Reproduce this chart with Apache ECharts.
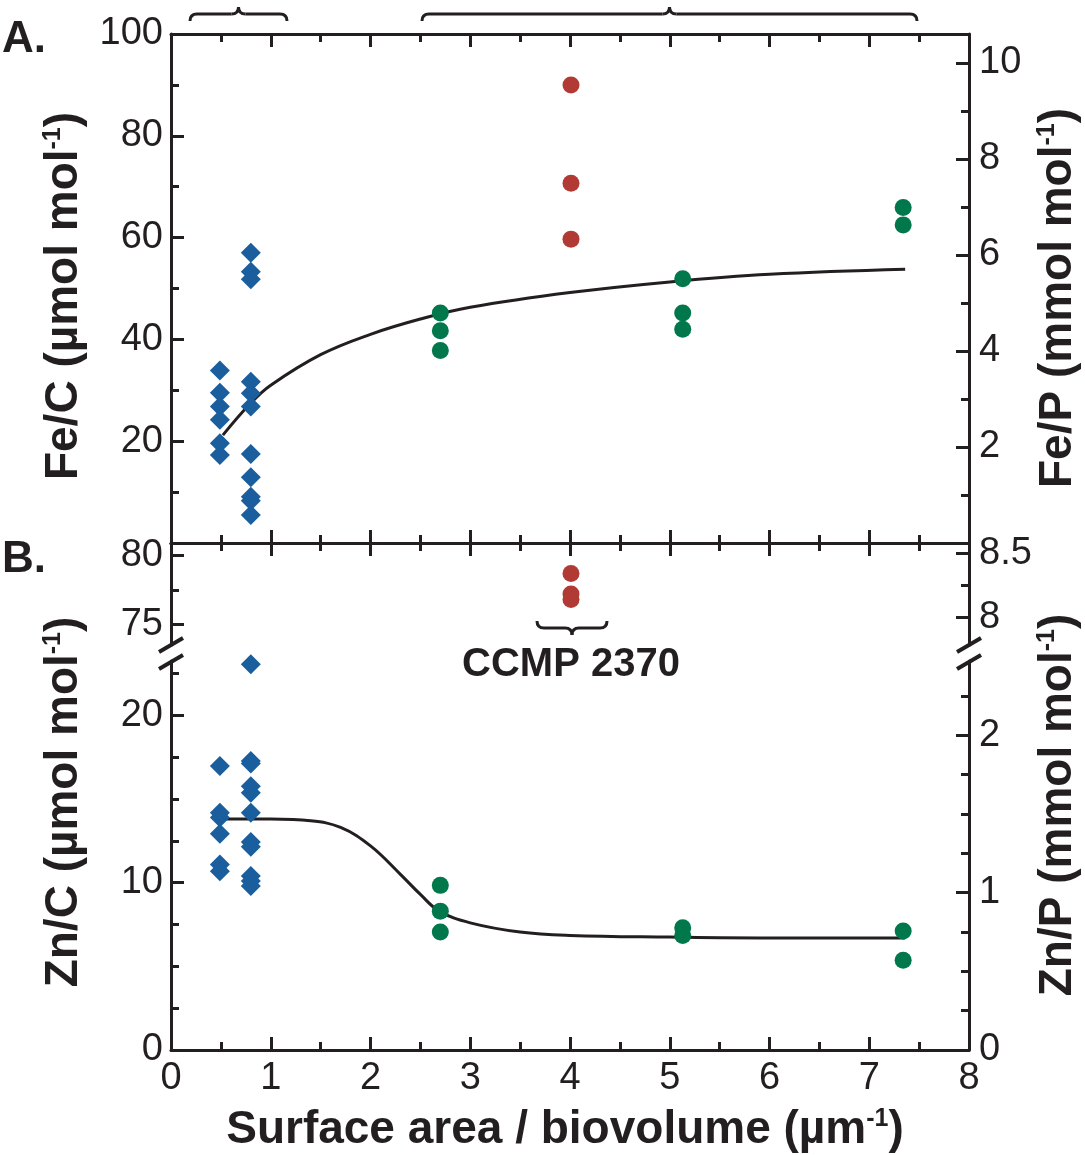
<!DOCTYPE html>
<html>
<head>
<meta charset="utf-8">
<script src="https://cdn.jsdelivr.net/npm/echarts@6/dist/echarts.min.js"></script>
<style>
  html, body { margin: 0; padding: 0; background: #fff; }
  #chart { width: 1085px; height: 1155px; }
</style>
</head>
<body>
<div id="chart"></div>
<script>
// ---- data ----
// panel A: Fe/C (µmol mol-1) vs surface area / biovolume
var blueFeC = [
    [0.49, 33.9], [0.49, 29.5], [0.49, 26.8], [0.49, 24.2], [0.49, 19.6], [0.49, 17.3],
    [0.80, 57.0], [0.80, 53.3], [0.80, 51.8], [0.80, 31.7], [0.80, 29.4], [0.80, 26.8],
    [0.80, 17.5], [0.80, 12.9], [0.80, 9.1], [0.80, 8.3], [0.80, 5.5]
];
var greenFeC = [
    [2.70, 45.2], [2.70, 41.7], [2.70, 37.8],
    [5.13, 51.9], [5.13, 45.2], [5.13, 42.0],
    [7.34, 65.9], [7.34, 62.5]
];
var redFeC = [[4.01, 90.0], [4.01, 70.7], [4.01, 59.7]];
var fitFeC = [
    [0.52, 21.2], [0.8, 27.5], [1.0, 31.0], [1.5, 37.0], [2.0, 41.0], [2.5, 44.0],
    [3.0, 46.3], [4.0, 49.2], [5.0, 51.3], [6.0, 52.8], [7.36, 53.8]
];

// panel B: Zn/C (µmol mol-1)
var blueZnC = [
    [0.49, 16.97], [0.49, 14.18], [0.49, 13.9], [0.49, 12.93], [0.49, 11.09], [0.49, 10.69],
    [0.80, 23.05], [0.80, 17.27], [0.80, 17.13], [0.80, 15.77], [0.80, 15.38], [0.80, 14.18],
    [0.80, 12.43], [0.80, 12.15], [0.80, 10.4], [0.80, 10.1], [0.80, 9.8]
];
var greenZnC = [
    [2.70, 9.84], [2.70, 8.30], [2.70, 7.05],
    [5.13, 7.31], [5.13, 6.85],
    [7.34, 7.11], [7.34, 5.37]
];
var redZnC = [[4.01, 78.7], [4.01, 77.2], [4.01, 76.8]];   // CCMP 2370, above the axis break
var fitZnC = [
    [0.48, 13.8], [1.0, 13.8], [1.4, 13.7], [1.7, 13.3], [2.0, 12.2], [2.3, 10.5],
    [2.5, 9.3], [2.69, 8.3], [3.0, 7.6], [3.5, 7.05], [4.0, 6.85], [5.0, 6.75],
    [6.0, 6.7], [7.36, 6.7]
];

// tick values
var feCMajor = [20, 40, 60, 80, 100], feCMinor = [10, 30, 50, 70, 90];
var fePMajor = [2, 4, 6, 8, 10], fePMinor = [1, 3, 5, 7, 9];
var znCHiMajor = [75, 80], znCHiMinor = [77.5];
var znPHiMajor = [8, 8.5], znPHiMinor = [8.25];
var znCLoMajor = [0, 10, 20], znCLoMinor = [2.5, 5, 7.5, 12.5, 15, 17.5, 22.5];
var znPLoMajor = [0, 1, 2], znPLoMinor = [0.25, 0.5, 0.75, 1.25, 1.5, 1.75, 2.25];

// ---- styling ----
var INK = '#231f20';
var BLUE = '#1b5e9e', GREEN = '#00784b', RED = '#b23a34';
var FONT = '"Liberation Sans", Arial, Helvetica, sans-serif';
var LBL = { color: INK, fontSize: 38, fontFamily: FONT };

function yMajor(grid, pos, min, max, ticks) {
    return {
        type: 'value', gridIndex: grid, position: pos, min: min, max: max,
        axisLine: { show: true, lineStyle: { color: INK, width: 3 } },
        axisTick: { show: true, inside: true, length: 13,
            customValues: ticks.filter(function (v) { return v > min && v < max; }),
            lineStyle: { color: INK, width: 3 } },
        axisLabel: Object.assign({ customValues: ticks, margin: pos === 'left' ? 8 : 10 }, LBL),
        splitLine: { show: false }
    };
}
function yMinor(grid, pos, min, max, ticks) {
    return {
        type: 'value', gridIndex: grid, position: pos, min: min, max: max,
        axisLine: { show: false },
        axisTick: { show: true, inside: true, length: 8, customValues: ticks, lineStyle: { color: INK, width: 3 } },
        axisLabel: { show: false },
        splitLine: { show: false }
    };
}
function xAx(grid, pos, labels) {
    return {
        type: 'value', gridIndex: grid, position: pos, min: 0, max: 8, interval: 1,
        axisLine: { show: true, onZero: false, lineStyle: { color: INK, width: 3 } },
        axisTick: { show: true, inside: true, length: 13, lineStyle: { color: INK, width: 3 } },
        minorTick: { show: true, splitNumber: 2, length: 8, lineStyle: { color: INK, width: 3 } },
        axisLabel: labels ? Object.assign({ margin: 10 }, LBL) : { show: false },
        splitLine: { show: false }
    };
}
function rich(main, size) {
    return {
        text: '{a|' + main + '}{s|-1}{a|)}',
        rich: {
            a: { fontSize: size, fontWeight: 'bold', fontFamily: FONT, fill: INK, lineHeight: size },
            s: { fontSize: Math.round(size * 0.55), fontWeight: 'bold', fontFamily: FONT, fill: INK,
                verticalAlign: 'top', lineHeight: size }
        }
    };
}
function title(x, y, rot, main) {
    var st = rich(main, 46);
    st.align = 'center'; st.verticalAlign = 'middle';
    return { type: 'text', x: x, y: y, rotation: rot, style: st };
}
// curly brace built from lines and quadratic curves; dir = -1 tip up, +1 tip down
function brace(x0, x1, yl, dir) {
    var xc = (x0 + x1) / 2, r = 7, h = 7 * dir;
    var st = { stroke: INK, lineWidth: 3, fill: null };
    return {
        type: 'group',
        children: [
            { type: 'bezierCurve', shape: { x1: x0, y1: yl - h, cpx1: x0, cpy1: yl, x2: x0 + r, y2: yl }, style: st },
            { type: 'line', shape: { x1: x0 + r, y1: yl, x2: xc - r, y2: yl }, style: st },
            { type: 'bezierCurve', shape: { x1: xc - r, y1: yl, cpx1: xc, cpy1: yl, x2: xc, y2: yl + h }, style: st },
            { type: 'bezierCurve', shape: { x1: xc, y1: yl + h, cpx1: xc, cpy1: yl, x2: xc + r, y2: yl }, style: st },
            { type: 'line', shape: { x1: xc + r, y1: yl, x2: x1 - r, y2: yl }, style: st },
            { type: 'bezierCurve', shape: { x1: x1 - r, y1: yl, cpx1: x1, cpy1: yl, x2: x1, y2: yl - h }, style: st }
        ]
    };
}
function slash(xc, yc) {
    return { type: 'line', shape: { x1: xc - 12, y1: yc + 7, x2: xc + 12, y2: yc - 7 },
        style: { stroke: INK, lineWidth: 4 } };
}

var chart = echarts.init(document.getElementById('chart'), null, { renderer: 'canvas' });

chart.setOption({
    animation: false,
    backgroundColor: '#fff',
    grid: [
        { left: 171, right: 116, top: 34, height: 509 },   // A
        { left: 171, right: 116, top: 543, height: 102 },  // B, above break
        { left: 171, right: 116, top: 661, height: 389 }   // B, below break
    ],
    xAxis: [
        xAx(0, 'bottom', false),
        xAx(0, 'top', false),
        xAx(1, 'top', false),
        xAx(2, 'bottom', true)
    ],
    yAxis: [
        yMajor(0, 'left', 0, 100, feCMajor),
        yMinor(0, 'left', 0, 100, feCMinor),
        yMajor(0, 'right', 0, 10.6, fePMajor),
        yMinor(0, 'right', 0, 10.6, fePMinor),
        yMajor(1, 'left', 73.47, 80.93, znCHiMajor),
        yMinor(1, 'left', 73.47, 80.93, znCHiMinor),
        yMajor(1, 'right', 7.784, 8.58, znPHiMajor),
        yMinor(1, 'right', 7.784, 8.58, znPHiMinor),
        yMajor(2, 'left', 0, 23.25, znCLoMajor),
        yMinor(2, 'left', 0, 23.25, znCLoMinor),
        yMajor(2, 'right', 0, 2.473, znPLoMajor),
        yMinor(2, 'right', 0, 2.473, znPLoMinor)
    ],
    series: [
        { type: 'line', xAxisIndex: 0, yAxisIndex: 0, data: fitFeC, smooth: 0.4,
            showSymbol: false, lineStyle: { color: INK, width: 3 }, z: 1 },
        { type: 'scatter', xAxisIndex: 0, yAxisIndex: 0, data: blueFeC, symbol: 'diamond', symbolSize: 20,
            itemStyle: { color: BLUE, opacity: 1 }, clip: false, z: 2 },
        { type: 'scatter', xAxisIndex: 0, yAxisIndex: 0, data: greenFeC, symbolSize: 17,
            itemStyle: { color: GREEN, opacity: 1 }, z: 2 },
        { type: 'scatter', xAxisIndex: 0, yAxisIndex: 0, data: redFeC, symbolSize: 17,
            itemStyle: { color: RED, opacity: 1 }, z: 2 },

        { type: 'scatter', xAxisIndex: 2, yAxisIndex: 4, data: redZnC, symbolSize: 17,
            itemStyle: { color: RED, opacity: 1 }, z: 2 },

        { type: 'line', xAxisIndex: 3, yAxisIndex: 8, data: fitZnC, smooth: 0.4,
            showSymbol: false, lineStyle: { color: INK, width: 3 }, z: 1 },
        { type: 'scatter', xAxisIndex: 3, yAxisIndex: 8, data: blueZnC, symbol: 'diamond', symbolSize: 20,
            itemStyle: { color: BLUE, opacity: 1 }, clip: false, z: 2 },
        { type: 'scatter', xAxisIndex: 3, yAxisIndex: 8, data: greenZnC, symbolSize: 17,
            itemStyle: { color: GREEN, opacity: 1 }, z: 2 }
    ],
    graphic: [
        { type: 'text', x: 2, y: 40, style: { text: 'A.', font: 'bold 44px ' + FONT, fill: INK, verticalAlign: 'middle' } },
        { type: 'text', x: 2, y: 560, style: { text: 'B.', font: 'bold 44px ' + FONT, fill: INK, verticalAlign: 'middle' } },
        title(64, 296, Math.PI / 2, 'Fe/C (µmol mol'),
        title(64, 802, Math.PI / 2, 'Zn/C (µmol mol'),
        title(1058, 298, Math.PI / 2, 'Fe/P (mmol mol'),
        title(1058, 805, Math.PI / 2, 'Zn/P (mmol mol'),
        (function () {
            var st = rich('Surface area / biovolume (µm', 46);
            st.align = 'center'; st.verticalAlign = 'middle';
            return { type: 'text', x: 565, y: 1130, style: st };
        })(),
        { type: 'text', x: 571, y: 665, style: { text: 'CCMP 2370', font: 'bold 40px ' + FONT, fill: INK,
            align: 'center', verticalAlign: 'middle' } },
        brace(190, 287, 14, -1),
        brace(422, 917, 14, -1),
        brace(537, 607, 628, 1),
        slash(171, 645), slash(171, 662),
        slash(969, 645), slash(969, 662)
    ]
});
</script>
</body>
</html>
